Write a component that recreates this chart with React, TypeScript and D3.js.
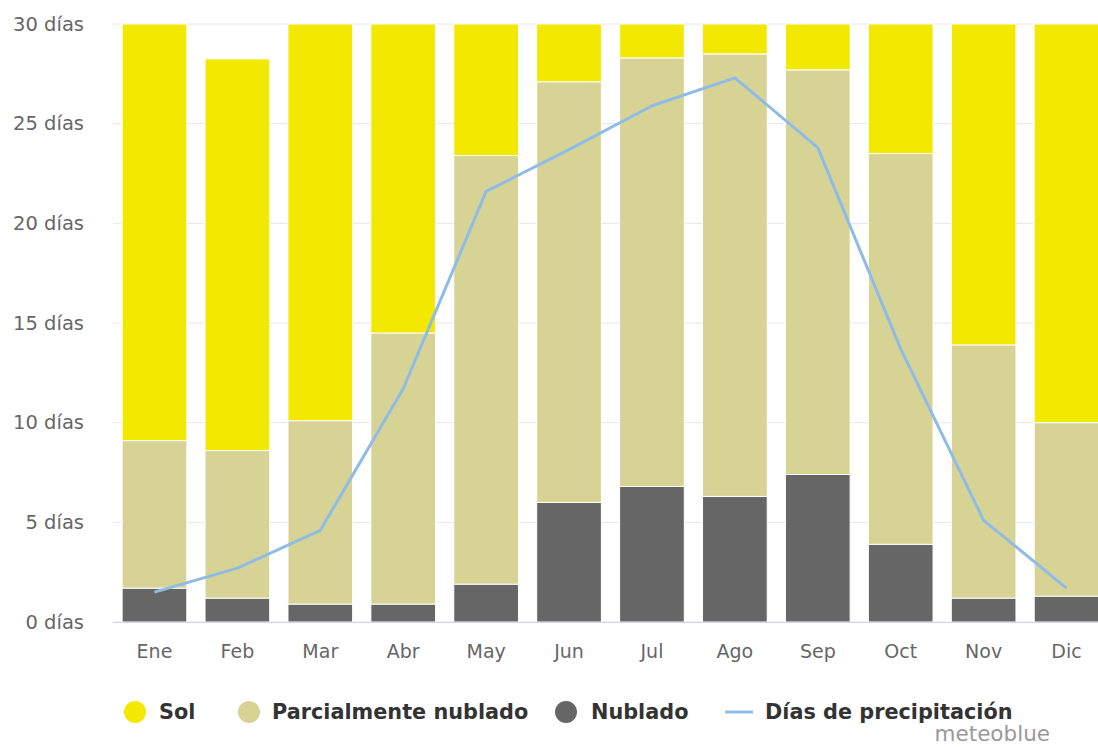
import * as d3 from 'd3'

const months = ['Ene', 'Feb', 'Mar', 'Abr', 'May', 'Jun', 'Jul', 'Ago', 'Sep', 'Oct', 'Nov', 'Dic']
const totalDays = [31, 28.25, 31, 30, 31, 30, 31, 31, 30, 31, 30, 31]
const nublado = [1.7, 1.2, 0.9, 0.9, 1.9, 6.0, 6.8, 6.3, 7.4, 3.9, 1.2, 1.3]
const parcial = [7.4, 7.4, 9.2, 13.6, 21.5, 21.1, 21.5, 22.2, 20.3, 19.6, 12.7, 8.7]
const precipitacion = [1.5, 2.7, 4.6, 11.7, 21.6, 23.7, 25.9, 27.3, 23.8, 13.7, 5.1, 1.7]
const yTicks = [0, 5, 10, 15, 20, 25, 30]

const colors = { sol: '#f2e800', parcial: '#d6d394', nublado: '#666666', lluvia: '#8fbce6' }
const font = '"DejaVu Sans", Verdana, sans-serif'

export default function App() {
  const width = 1098
  const height = 747
  const margin = { top: 24, right: -10, bottom: 125, left: 113 }

  const x = d3.scaleBand<string>(months, [margin.left, width - margin.right]).paddingInner(0.22).paddingOuter(0.11)
  const y = d3.scaleLinear([0, 30], [height - margin.bottom, margin.top])
  const line = d3
    .line<number>()
    .x((_, i) => x(months[i])! + x.bandwidth() / 2)
    .y((d) => y(d))

  const rows = months.map((m, i) => {
    const top = nublado[i] + parcial[i]
    return [
      { key: 'nublado', y0: 0, y1: nublado[i], m },
      { key: 'parcial', y0: nublado[i], y1: top, m },
      { key: 'sol', y0: top, y1: Math.min(totalDays[i], 30), m },
    ]
  })

  const legend = [
    { label: 'Sol', color: colors.sol, cx: 135, tx: 159 },
    { label: 'Parcialmente nublado', color: colors.parcial, cx: 249, tx: 272 },
    { label: 'Nublado', color: colors.nublado, cx: 566, tx: 591 },
  ]

  return (
    <svg width={width} height={height} style={{ position: 'absolute', left: 0, top: 0, fontFamily: font }}>
      <rect width={width} height={height} fill="white" />
      {yTicks.map((t) => (
        <g key={t}>
          <line x1={margin.left} x2={width} y1={y(t)} y2={y(t)} stroke="#e6e6e6" strokeWidth={1} />
          <text x={84} y={y(t)} dy="0.35em" textAnchor="end" fontSize={19.5} fill="#666">
            {t} días
          </text>
        </g>
      ))}
      {rows.map((r, i) =>
        r.map((s) => (
          <rect
            key={months[i] + s.key}
            x={x(s.m)}
            width={x.bandwidth()}
            y={y(s.y1)}
            height={Math.max(0, y(s.y0) - y(s.y1))}
            fill={colors[s.key as keyof typeof colors]}
            stroke="white"
            strokeWidth={1}
          />
        ))
      )}
      <line x1={margin.left} x2={width} y1={y(0) + 0.5} y2={y(0) + 0.5} stroke="#ccd6eb" strokeWidth={1} />
      <path d={line(precipitacion) || undefined} fill="none" stroke={colors.lluvia} strokeWidth={3} strokeLinejoin="round" />
      {months.map((m) => (
        <text key={m} x={x(m)! + x.bandwidth() / 2} y={658} textAnchor="middle" fontSize={19} fill="#666">
          {m}
        </text>
      ))}
      {legend.map((l) => (
        <g key={l.label}>
          <circle cx={l.cx} cy={712} r={11} fill={l.color} />
          <text x={l.tx} y={719} fontSize={20.8} fontWeight="bold" fill="#333">
            {l.label}
          </text>
        </g>
      ))}
      <line x1={725} x2={753} y1={712} y2={712} stroke={colors.lluvia} strokeWidth={3} />
      <text x={765} y={719} fontSize={20.8} fontWeight="bold" fill="#333">
        Días de precipitación
      </text>
      <text x={1050} y={741} textAnchor="end" fontSize={21.5} fill="#999">
        meteoblue
      </text>
    </svg>
  )
}
